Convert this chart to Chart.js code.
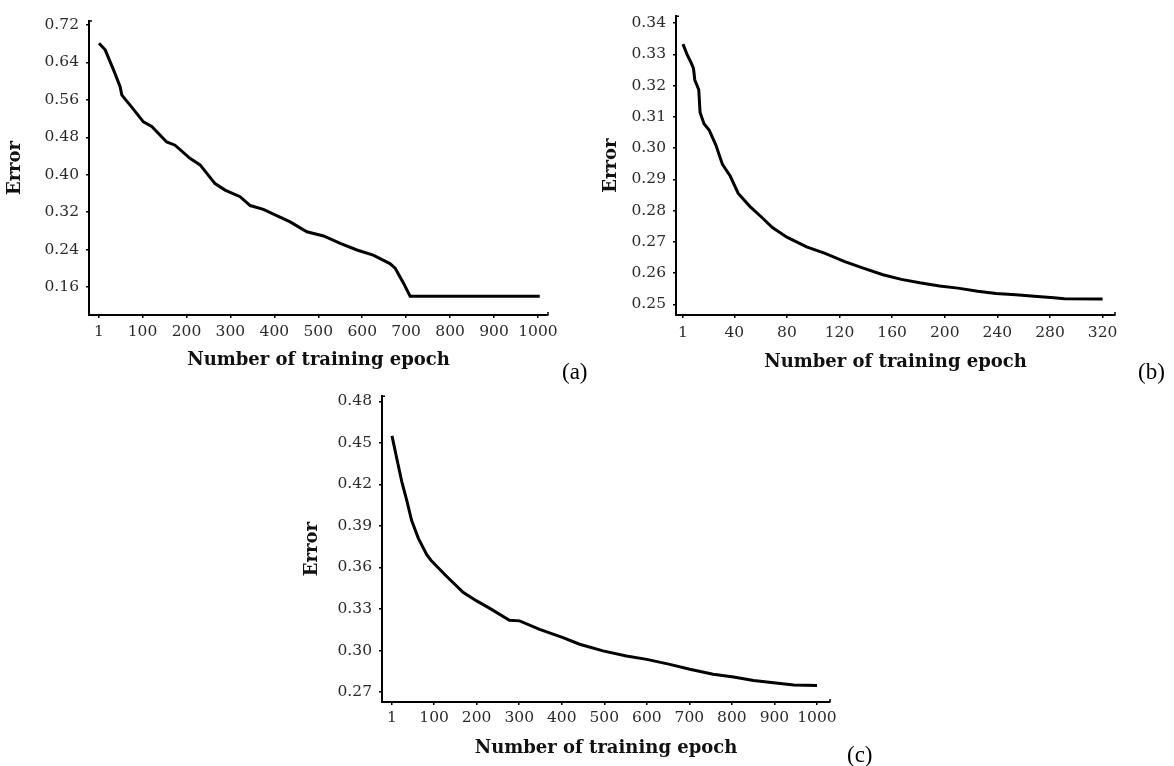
<!DOCTYPE html>
<html>
<head>
<meta charset="utf-8">
<script src="https://cdn.jsdelivr.net/npm/chart.js@4.4.1/dist/chart.umd.min.js"></script>
<style>
    body { margin: 0; background: #fff; width: 1174px; height: 766px; position: relative; overflow: hidden; }
    .box { position: absolute; }
    .tag { position: absolute; font-family: 'Liberation Serif', 'Times New Roman', serif; font-size: 23px; line-height: 26px; color: #000; }
</style>
</head>
<body>
<div class="box" style="left:0;top:0;width:600px;height:385px"><canvas id="chartA"></canvas></div>
<div class="box" style="left:580px;top:0;width:594px;height:385px"><canvas id="chartB"></canvas></div>
<div class="box" style="left:290px;top:380px;width:600px;height:386px"><canvas id="chartC"></canvas></div>
<div class="tag" style="left:562px;top:359px">(a)</div>
<div class="tag" style="left:1138px;top:359px">(b)</div>
<div class="tag" style="left:847px;top:742px">(c)</div>

<script>
// (a) 1000 epochs, error drops to a plateau after ~700
var epochsA = [1, 15, 34, 49, 53, 75, 102, 121, 155, 174, 208, 231, 265, 288, 322, 345, 375, 436, 474, 512, 550, 588, 625, 663, 675, 694, 709, 1004];
var errorA = [0.681, 0.667, 0.624, 0.588, 0.570, 0.545, 0.513, 0.503, 0.470, 0.463, 0.435, 0.421, 0.381, 0.367, 0.353, 0.334, 0.326, 0.299, 0.278, 0.269, 0.253, 0.239, 0.228, 0.210, 0.200, 0.168, 0.140, 0.140];
var xTicksA = [1, 100, 200, 300, 400, 500, 600, 700, 800, 900, 1000];
var yTicksA = [0.16, 0.24, 0.32, 0.40, 0.48, 0.56, 0.64, 0.72];

// (b) 320 epochs
var epochsB = [1, 4, 7, 9, 10, 13, 14, 17, 21, 26, 31, 37, 43, 52, 60, 69, 80, 95, 109, 124, 138, 153, 167, 181, 196, 210, 225, 239, 254, 268, 283, 291, 320];
var errorB = [0.3333, 0.3301, 0.3275, 0.3255, 0.3218, 0.3187, 0.3114, 0.3078, 0.3057, 0.3010, 0.2948, 0.2910, 0.2855, 0.2813, 0.2782, 0.2746, 0.2715, 0.2684, 0.2663, 0.2637, 0.2616, 0.2595, 0.2580, 0.2569, 0.2559, 0.2552, 0.2542, 0.2535, 0.2531, 0.2526, 0.2521, 0.2518, 0.2517];
var xTicksB = [1, 40, 80, 120, 160, 200, 240, 280, 320];
var yTicksB = [0.25, 0.26, 0.27, 0.28, 0.29, 0.30, 0.31, 0.32, 0.33, 0.34];

// (c) 1000 epochs
var epochsC = [1, 12, 24, 36, 47, 63, 83, 93, 128, 168, 199, 230, 277, 301, 348, 403, 442, 497, 552, 600, 654, 701, 756, 804, 851, 898, 945, 1000];
var errorC = [0.455, 0.439, 0.422, 0.408, 0.394, 0.381, 0.369, 0.365, 0.354, 0.342, 0.336, 0.3306, 0.3219, 0.3214, 0.3153, 0.3093, 0.3045, 0.2997, 0.2960, 0.2936, 0.2900, 0.2864, 0.2828, 0.2808, 0.2784, 0.2767, 0.2750, 0.2748];
var xTicksC = [1, 100, 200, 300, 400, 500, 600, 700, 800, 900, 1000];
var yTicksC = [0.27, 0.30, 0.33, 0.36, 0.39, 0.42, 0.45, 0.48];

var tickFont = { family: "'DejaVu Serif', serif", size: 15.5 };
var titleFont = { family: "'DejaVu Serif', serif", size: 18, weight: 'bold' };
var tickColor = '#2b2b2b';

// little hooks at the open ends of both axes
var axisHooks = {
    id: 'axisHooks',
    afterDraw: function (chart) {
        var a = chart.chartArea;
        var c = chart.ctx;
        c.save();
        c.strokeStyle = '#000';
        c.lineWidth = 1.5;
        c.beginPath();
        c.moveTo(a.left, a.top);
        c.lineTo(a.left + 3, a.top);
        c.moveTo(a.right, a.bottom);
        c.lineTo(a.right, a.bottom - 3);
        c.stroke();
        c.restore();
    }
};

function toPoints(xs, ys) {
    return xs.map(function (x, i) {
        return { x: x, y: ys[i] };
    });
}

function drawErrorChart(id, xs, ys, xTicks, yTicks, box) {
    var ctx = document.getElementById(id).getContext('2d');

    return new Chart(ctx, {
        type: 'line',
        data: {
            datasets: [{
                data: toPoints(xs, ys),
                borderColor: '#000',
                borderWidth: 3,
                pointRadius: 0,
                tension: 0,
                fill: false
            }]
        },
        options: {
            animation: false,
            responsive: true,
            maintainAspectRatio: false,
            layout: { padding: box.padding },
            plugins: {
                legend: { display: false },
                tooltip: { enabled: false }
            },
            scales: {
                x: {
                    type: 'linear',
                    position: 'bottom',
                    min: box.xMin,
                    max: box.xMax,
                    afterBuildTicks: function (scale) {
                        scale.ticks = xTicks.map(function (v) { return { value: v }; });
                    },
                    afterFit: function (scale) {
                        scale.height = box.xHeight;
                    },
                    ticks: {
                        autoSkip: false,
                        maxRotation: 0,
                        padding: box.xPad,
                        color: tickColor,
                        font: tickFont,
                        callback: function (v) { return String(v); }
                    },
                    grid: { drawOnChartArea: false, tickLength: 3, color: '#000', lineWidth: 1.5 },
                    border: { color: '#000', width: 2 },
                    title: { display: true, text: 'Number of training epoch', color: '#111', font: titleFont, padding: { top: 4, bottom: 4 } }
                },
                y: {
                    type: 'linear',
                    min: box.yMin,
                    max: box.yMax,
                    afterBuildTicks: function (scale) {
                        scale.ticks = yTicks.map(function (v) { return { value: v }; });
                    },
                    afterFit: function (scale) {
                        scale.width = box.yWidth;
                    },
                    ticks: {
                        autoSkip: false,
                        padding: 7,
                        color: tickColor,
                        font: tickFont,
                        callback: function (v) { return v.toFixed(2); }
                    },
                    grid: { drawOnChartArea: false, tickLength: 3, color: '#000', lineWidth: 1.5 },
                    border: { color: '#000', width: 2 },
                    title: { display: true, text: 'Error', color: '#111', font: titleFont, padding: { top: 4, bottom: 4 } }
                }
            }
        },
        plugins: [axisHooks]
    });
}

drawErrorChart('chartA', epochsA, errorA, xTicksA, yTicksA, {
    xMin: -21.8, xMax: 1022.8, yMin: 0.100, yMax: 0.7286,
    padding: { left: 1, top: 21, right: 52, bottom: 10 },
    yWidth: 88, xHeight: 60, xPad: 5
});

drawErrorChart('chartB', epochsB, errorB, xTicksB, yTicksB, {
    xMin: -4.3, xMax: 329.4, yMin: 0.2466, yMax: 0.3422,
    padding: { left: 17, top: 8, right: 59, bottom: 8 },
    yWidth: 79, xHeight: 62, xPad: 6
});

drawErrorChart('chartC', epochsC, errorC, xTicksC, yTicksC, {
    xMin: -22.5, xMax: 1030.6, yMin: 0.2628, yMax: 0.4836,
    padding: { left: 8, top: 14, right: 60, bottom: 3 },
    yWidth: 84, xHeight: 61, xPad: 4
});
</script>
</body>
</html>
